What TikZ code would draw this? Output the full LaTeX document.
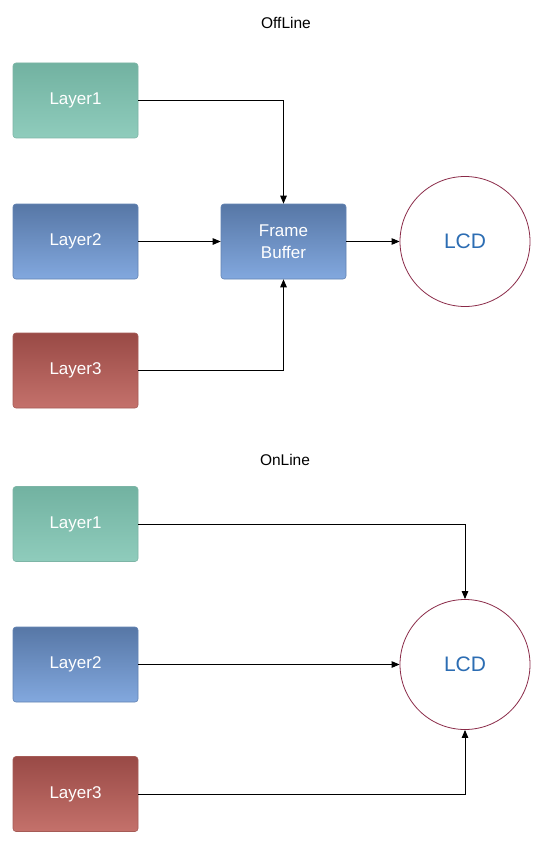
\documentclass[tikz,border=0pt]{standalone}
\usepackage{fontspec}
\setmainfont{Liberation Sans}
\usetikzlibrary{arrows.meta,shadings}
\definecolor{tealtop}{HTML}{72B2A1}
\definecolor{tealbot}{HTML}{8FCCBC}
\definecolor{tealbd}{HTML}{7DB5A6}
\definecolor{bluetop}{HTML}{5777A6}
\definecolor{bluebot}{HTML}{82A8DE}
\definecolor{bluebd}{HTML}{6283B3}
\definecolor{redtop}{HTML}{994A46}
\definecolor{redbot}{HTML}{C4716B}
\definecolor{redbd}{HTML}{A55B56}
\definecolor{lcdtext}{HTML}{2C6DB3}
\definecolor{lcdline}{HTML}{8A2A48}
\tikzset{
  box/.style={rounded corners=3pt, minimum width=125pt, minimum height=75pt,
    inner sep=0pt, text=white, font=\fontsize{17}{22.5}\selectfont, align=center, line width=0.6pt,
    path picture={\fill[white,opacity=0.22] (path picture bounding box.north west) rectangle ([yshift=4pt]path picture bounding box.north east);}},
  teal box/.style={box, draw=tealbd, top color=tealtop, bottom color=tealbot},
  blue box/.style={box, draw=bluebd, top color=bluetop, bottom color=bluebot},
  red box/.style={box, draw=redbd, top color=redtop, bottom color=redbot},
  lcd/.style={circle, draw=lcdline, line width=0.8pt, minimum size=130pt, inner sep=0pt,
    text=lcdtext, font=\fontsize{21}{24}\selectfont, fill=white},
  title/.style={font=\fontsize{15.5}{18}\selectfont, text=black},
  arr/.style={draw=black, line width=0.9pt, -{Triangle[length=8pt,width=6.5pt]}}
}
\begin{document}
\begin{tikzpicture}[x=1pt,y=-1pt]
\useasboundingbox[fill=white] (0,0) rectangle (540,845);
% OffLine
\node[title] (t1) at (286,23) {OffLine};
\node[teal box] (a1) at (75.5,100.5) {Layer1};
\node[blue box] (a2) at (75.5,241.5) {Layer2};
\node[red box] (a3) at (75.5,370.5) {Layer3};
\node[blue box] (fb) at (283.5,241.5) {Frame\\Buffer};
\node[lcd] (lcd1) at (465,241.5) {LCD};
\draw[arr] (a1.east) -| (fb.north);
\draw[arr] (a2.east) -- (fb.west);
\draw[arr] (a3.east) -| (fb.south);
\draw[arr] (fb.east) -- (lcd1.west);
% OnLine
\node[title] (t2) at (285,460) {OnLine};
\node[teal box] (b1) at (75.5,524) {Layer1};
\node[blue box] (b2) at (75.5,664.5) {Layer2};
\node[red box] (b3) at (75.5,794) {Layer3};
\node[lcd] (lcd2) at (465,664.5) {LCD};
\draw[arr] (b1.east) -| (lcd2.north);
\draw[arr] (b2.east) -- (lcd2.west);
\draw[arr] (b3.east) -| (lcd2.south);
\end{tikzpicture}
\end{document}
